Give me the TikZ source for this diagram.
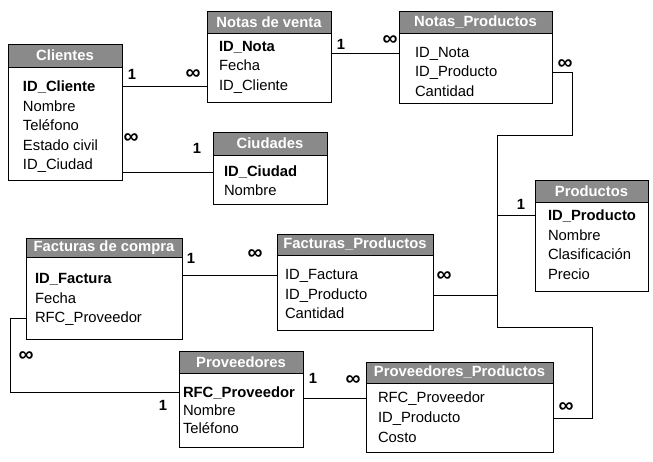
\documentclass[tikz,border=0pt]{standalone}
\usepackage{fontspec}
\setmainfont{Liberation Sans}
\begin{document}
\begin{tikzpicture}[x=1pt,y=-1pt,
  every node/.style={font=\fontsize{14.8}{16}\selectfont},
  tbox/.style={draw=black,line width=1pt,fill=none,anchor=north west,inner sep=0,outer sep=0},
  thdr/.style={draw=black,line width=1pt,fill=hdrgray,anchor=north west,inner sep=0,outer sep=0,text=white,font=\fontsize{14.8}{16}\selectfont\bfseries},
  rowtxt/.style={anchor=base west,inner sep=0,outer sep=0},
  keytxt/.style={rowtxt,font=\fontsize{14.8}{16}\selectfont\bfseries},
  lbl/.style={inner sep=0,font=\fontsize{14.8}{16}\selectfont\bfseries},
  inf/.style={inner sep=0,font=\fontsize{21}{22}\selectfont\bfseries},
  conn/.style={line width=1pt,draw=black}]
\definecolor{hdrgray}{RGB}{138,138,138}
\useasboundingbox (0,0) rectangle (653,461);
\fill[white] (0,0) rectangle (653,461);
% ---------- tables ----------
% Clientes
\node[thdr,minimum width=114,minimum height=23] (cliH) at (8,44) {Clientes};
\node[tbox,minimum width=114,minimum height=136] (cli) at (8,44) {};
\node[keytxt] (cliR1) at (23,91.5) {ID\_Cliente};
\node[rowtxt] (cliR2) at (23,111) {Nombre};
\node[rowtxt] (cliR3) at (23,130.5) {Teléfono};
\node[rowtxt] (cliR4) at (23,150) {Estado civil};
\node[rowtxt] (cliR5) at (23,169.5) {ID\_Ciudad};
% Notas de venta
\node[thdr,minimum width=124,minimum height=22] (nvH) at (207,11) {Notas de venta};
\node[tbox,minimum width=124,minimum height=91] (nv) at (207,11) {};
\node[keytxt] (nvR1) at (219,51) {ID\_Nota};
\node[rowtxt] (nvR2) at (219,70.7) {Fecha};
\node[rowtxt] (nvR3) at (219,90.5) {ID\_Cliente};
% Notas_Productos
\node[thdr,minimum width=153,minimum height=22] (npH) at (399,11) {Notas\_Productos};
\node[tbox,minimum width=153,minimum height=92] (np) at (399,11) {};
\node[rowtxt] (npR1) at (415,57) {ID\_Nota};
\node[rowtxt] (npR2) at (415,76.7) {ID\_Producto};
\node[rowtxt] (npR3) at (415,96.5) {Cantidad};
% Ciudades
\node[thdr,minimum width=114,minimum height=23] (ciuH) at (213,132) {Ciudades};
\node[tbox,minimum width=114,minimum height=72] (ciu) at (213,132) {};
\node[keytxt] (ciuR1) at (224,176.7) {ID\_Ciudad};
\node[rowtxt] (ciuR2) at (224,195) {Nombre};
% Productos
\node[thdr,minimum width=113,minimum height=22] (prodH) at (535,180) {Productos};
\node[tbox,minimum width=113,minimum height=111] (prod) at (535,180) {};
\node[keytxt] (prodR1) at (548,220) {ID\_Producto};
\node[rowtxt] (prodR2) at (548,240) {Nombre};
\node[rowtxt] (prodR3) at (548,259.5) {Clasificación};
\node[rowtxt] (prodR4) at (548,279) {Precio};
% Facturas de compra
\node[thdr,minimum width=156,minimum height=19.5] (fcH) at (26,238) {Facturas de compra};
\node[tbox,minimum width=156,minimum height=101] (fc) at (26,238) {};
\node[keytxt] (fcR1) at (35,283) {ID\_Factura};
\node[rowtxt] (fcR2) at (35,303) {Fecha};
\node[rowtxt] (fcR3) at (35,322) {RFC\_Proveedor};
% Facturas_Productos
\node[thdr,minimum width=156,minimum height=21] (fpH) at (277,234) {Facturas\_Productos};
\node[tbox,minimum width=156,minimum height=96] (fp) at (277,234) {};
\node[rowtxt] (fpR1) at (285,279) {ID\_Factura};
\node[rowtxt] (fpR2) at (285,299) {ID\_Producto};
\node[rowtxt] (fpR3) at (285,318.5) {Cantidad};
% Proveedores
\node[thdr,minimum width=124,minimum height=22] (provH) at (179,351) {Proveedores};
\node[tbox,minimum width=124,minimum height=96] (prov) at (179,351) {};
\node[keytxt] (provR1) at (183,397) {RFC\_Proveedor};
\node[rowtxt] (provR2) at (183,415) {Nombre};
\node[rowtxt] (provR3) at (183,433) {Teléfono};
% Proveedores_Productos
\node[thdr,minimum width=187,minimum height=21] (ppH) at (366,362) {Proveedores\_Productos};
\node[tbox,minimum width=187,minimum height=90] (pp) at (366,362) {};
\node[rowtxt] (ppR1) at (378,402) {RFC\_Proveedor};
\node[rowtxt] (ppR2) at (378,422) {ID\_Producto};
\node[rowtxt] (ppR3) at (378,442) {Costo};
% ---------- connectors ----------
\coordinate (busTop) at (497,135);
\coordinate (busBot) at (497,327);
\draw[conn] (cli.east |- nvR3) -- (nv.west |- nvR3);
\draw[conn] (cli.east |- ciuR1) -- (ciu.west |- ciuR1);
\draw[conn] (nv.east |- npR1) -- (np.west |- npR1);
\draw[conn] (np.east |- npR2) -- ++(20,0) |- (busTop) -- (busBot) -- ++(95,0) |- (pp.east |- ppR2);
\draw[conn] (prod.west |- prodR1) -- (busTop |- prodR1);
\draw[conn] (fp.east |- fpR2) -- (busTop |- fpR2);
\draw[conn] (fc.east |- fpR1) -- (fp.west |- fpR1);
\draw[conn] (fc.west |- fcR3) -- ++(-16,0) |- (prov.west |- provR1);
\draw[conn] (prov.east |- ppR1) -- (pp.west |- ppR1);
% ---------- cardinality labels ----------
\node[lbl] (k1a) at (132,74) {1};
\node[inf] (k1b) at (193,75) {∞};
\node[inf] (k2a) at (131,139) {∞};
\node[lbl] (k2b) at (197,148) {1};
\node[lbl] (k3a) at (341,44) {1};
\node[inf] (k3b) at (390,41) {∞};
\node[inf] (k4a) at (565,65) {∞};
\node[lbl] (k4b) at (521,204) {1};
\node[inf] (k5a) at (444,277) {∞};
\node[inf] (k5b) at (566,408) {∞};
\node[lbl] (k6a) at (191,258) {1};
\node[inf] (k6b) at (255,255) {∞};
\node[inf] (k7a) at (26,357) {∞};
\node[lbl] (k7b) at (163,405) {1};
\node[lbl] (k8a) at (313,378) {1};
\node[inf] (k8b) at (353,381) {∞};
\end{tikzpicture}
\end{document}
